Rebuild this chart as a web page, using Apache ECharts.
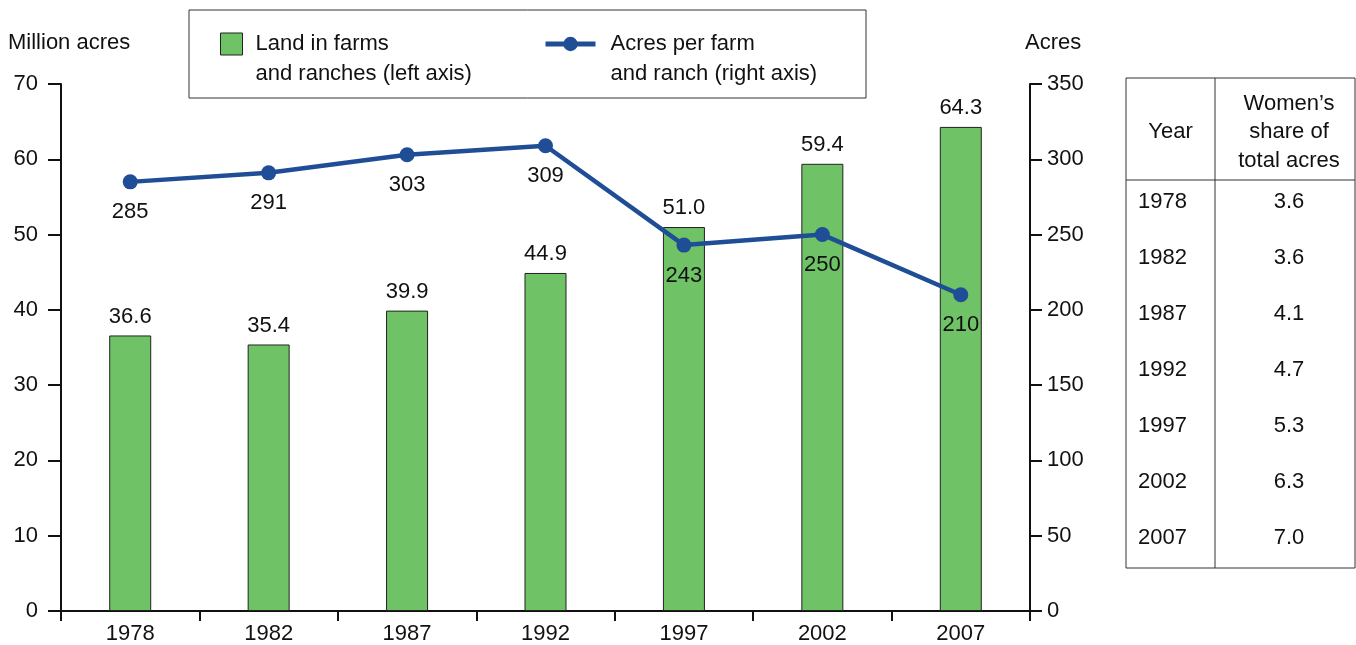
<!DOCTYPE html>
<html>
<head>
<meta charset="utf-8">
<script src="https://cdn.jsdelivr.net/npm/echarts@6/dist/echarts.min.js"></script>
<style>
  html, body { margin: 0; padding: 0; background: #fff; }
  #myChart { width: 1356px; height: 645px; }
</style>
</head>
<body>
<div id="myChart"></div>
<script>
// data
var years = ["1978", "1982", "1987", "1992", "1997", "2002", "2007"];
var landInFarms = [36.6, 35.4, 39.9, 44.9, 51.0, 59.4, 64.3];
var acresPerFarm = [285, 291, 303, 309, 243, 250, 210];
var tableYears = ["1978", "1982", "1987", "1992", "1997", "2002", "2007"];
var womenShare = ["3.6", "3.6", "4.1", "4.7", "5.3", "6.3", "7.0"];

var font = "'Liberation Sans', Arial, Helvetica, sans-serif";
var fs = 22;
var green = "#70c266";
var blue = "#1f4e96";

var chart = echarts.init(document.getElementById("myChart"));

// side table (women's share) built from the arrays
var tableX = 1126, tableY = 78, tableW = 229, tableH = 490;
var colX = 1215, headH = 102, rowH = 56;
var graphics = [
  { type: "rect", shape: { x: tableX, y: tableY, width: tableW, height: tableH },
    style: { fill: "none", stroke: "#333", lineWidth: 1 } },
  { type: "line", shape: { x1: colX, y1: tableY, x2: colX, y2: tableY + tableH },
    style: { stroke: "#333", lineWidth: 1 } },
  { type: "line", shape: { x1: tableX, y1: tableY + headH, x2: tableX + tableW, y2: tableY + headH },
    style: { stroke: "#333", lineWidth: 1 } },
  { type: "text", x: (tableX + colX) / 2, y: tableY + headH / 2 + 3,
    style: { text: "Year", font: fs + "px " + font, fill: "#111", align: "center", verticalAlign: "middle" } },
  { type: "text", x: 1289, y: tableY + headH / 2 + 3,
    style: { text: "Women’s\nshare of\ntotal acres", font: fs + "px " + font, fill: "#111",
      align: "center", verticalAlign: "middle", lineHeight: 28.5 } },
  // legend border
  { type: "rect", shape: { x: 189, y: 10, width: 677, height: 88 },
    style: { fill: "#fff", stroke: "#333", lineWidth: 1 }, z: -1 }
];
tableYears.forEach(function (y, i) {
  var cy = tableY + headH + 22 + i * rowH;
  graphics.push({ type: "text", x: 1138, y: cy,
    style: { text: y, font: fs + "px " + font, fill: "#111", align: "left", verticalAlign: "middle" } });
  graphics.push({ type: "text", x: 1289, y: cy,
    style: { text: womenShare[i], font: fs + "px " + font, fill: "#111", align: "center", verticalAlign: "middle" } });
});

// a blank first line keeps the icon level with the first text line
function legendText(name) { return " \n" + name; }

var option = {
  animation: false,
  textStyle: { fontFamily: font },
  grid: { left: 61, right: 326, top: 84, bottom: 32 },
  legend: [
    {
      data: ["Land in farms\nand ranches (left axis)"],
      left: 220, top: -1, padding: 0,
      itemWidth: 22, itemHeight: 22, icon: "rect",
      formatter: legendText,
      itemStyle: { borderColor: "#222", borderWidth: 1 },
      textStyle: { fontSize: fs, color: "#111", fontFamily: font, lineHeight: 30, padding: [0, 0, 0, 8] },
      selectedMode: false
    },
    {
      data: ["Acres per farm\nand ranch (right axis)"],
      left: 543, top: -1, padding: 0,
      itemWidth: 50, itemHeight: 18,
      formatter: legendText,
      lineStyle: { width: 5 },
      textStyle: { fontSize: fs, color: "#111", fontFamily: font, lineHeight: 30, padding: [0, 0, 0, 10] },
      selectedMode: false
    }
  ],
  xAxis: {
    type: "category",
    data: years,
    axisLine: { lineStyle: { color: "#111", width: 2 } },
    axisTick: { show: true, length: 10, lineStyle: { color: "#111", width: 2 } },
    axisLabel: { fontSize: fs, color: "#111", margin: 12 },
    splitLine: { show: false }
  },
  yAxis: [
    {
      type: "value", min: 0, max: 70, interval: 10,
      name: "Million acres", nameLocation: "end", nameGap: 30,
      nameTextStyle: { fontSize: fs, color: "#111", align: "left", padding: [0, 0, 0, -53] },
      axisLine: { show: true, lineStyle: { color: "#111", width: 2 } },
      axisTick: { show: true, length: 13, lineStyle: { color: "#111", width: 2 } },
      axisLabel: { fontSize: fs, color: "#111", margin: 23 },
      splitLine: { show: false }
    },
    {
      type: "value", min: 0, max: 350, interval: 50,
      name: "Acres", nameLocation: "end", nameGap: 30,
      nameTextStyle: { fontSize: fs, color: "#111", align: "left", padding: [0, 0, 0, -5] },
      axisLine: { show: true, lineStyle: { color: "#111", width: 2 } },
      axisTick: { show: true, length: 12, lineStyle: { color: "#111", width: 2 } },
      axisLabel: { fontSize: fs, color: "#111", margin: 17 },
      splitLine: { show: false }
    }
  ],
  graphic: graphics,
  series: [
    {
      name: "Land in farms\nand ranches (left axis)",
      type: "bar",
      yAxisIndex: 0,
      barWidth: 42,
      data: landInFarms,
      itemStyle: { color: green, borderColor: "#222", borderWidth: 1 },
      label: {
        show: true, position: "top", distance: 8,
        fontSize: fs, color: "#111",
        formatter: function (p) { return p.value.toFixed(1); }
      }
    },
    {
      name: "Acres per farm\nand ranch (right axis)",
      type: "line",
      yAxisIndex: 1,
      data: acresPerFarm,
      symbol: "circle",
      symbolSize: 15,
      lineStyle: { color: blue, width: 4.5 },
      itemStyle: { color: blue },
      label: { show: true, position: "bottom", distance: 12, fontSize: fs, color: "#111" },
      z: 3
    }
  ]
};

chart.setOption(option);
</script>
</body>
</html>
